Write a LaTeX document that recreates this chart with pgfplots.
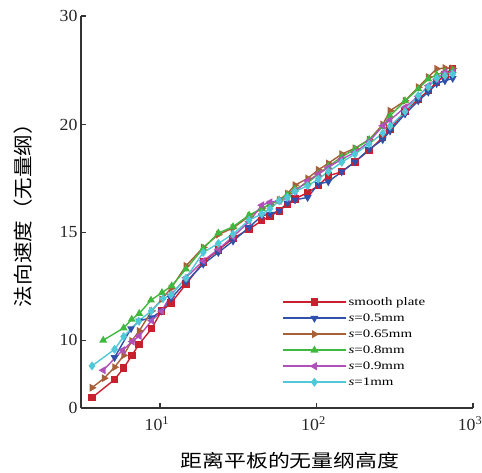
\documentclass[border=0pt]{standalone}
\usepackage{fontspec}
\usepackage{pgfplots}
\pgfplotsset{compat=1.18}
\setmainfont{Liberation Serif}
\newfontfamily\tickfont[FakeStretch=1.05]{Liberation Serif}
\newfontfamily\legfont[FakeStretch=1.3]{Liberation Serif}
\newfontfamily\cjky[FakeStretch=1.11]{Noto Sans CJK SC}
\newfontfamily\cjkx[FakeStretch=1.22]{Noto Sans CJK SC}

\definecolor{cRed}{RGB}{200,32,45}
\definecolor{cBlue}{RGB}{48,80,170}
\definecolor{cBrown}{RGB}{168,96,56}
\definecolor{cGreen}{RGB}{64,184,64}
\definecolor{cPurple}{RGB}{176,80,184}
\definecolor{cCyan}{RGB}{80,200,216}

\tikzset{ser/.style={line width=1.4bp}}

\begin{document}
\begin{tikzpicture}
\path[use as bounding box] (0bp,0bp) rectangle (482bp,-473bp);
\begin{axis}[
    at={(81bp,-408bp)}, anchor=south west,
    scale only axis,
    width=392bp, height=392bp,
    xmode=log,
    xmin=3.13, xmax=1000,
    ymin=6.86, ymax=25.03,
    axis lines=left,
    axis line style={-, line width=1.2bp, black!80},
    xtick={10,100,1000},
    xticklabels={10\textsuperscript{1},10\textsuperscript{2},10\textsuperscript{3}},
    xminorticks=false,
    ytick={6.86,10,15,20,25.03},
    yticklabels={0,10,15,20,30},
    tick align=inside,
    major tick length=5bp,
    tick style={line width=1.2bp, black!80},
    ticklabel style={font=\tickfont\fontsize{17}{17}\selectfont, black!85},
    xticklabel style={yshift=-5bp, xshift=-3bp},
    xlabel={\cjkx\fontsize{18}{18}\selectfont 距离平板的无量纲高度},
    xlabel style={at={(axis description cs:0.533,-0.133)}, anchor=center},
    ylabel={\cjky\fontsize{19.5}{19.5}\selectfont 法向速度（无量纲）},
    ylabel style={at={(axis description cs:-0.148,0.505)}, anchor=center, rotate=0},
    legend style={draw=none, fill=none, at={(axis description cs:0.505,0.29592)}, anchor=north west,
        font=\legfont\fontsize{11.5}{11.5}\selectfont,
        nodes={inner sep=2bp, text height=9bp, text depth=3bp}},
    legend cell align=left,
    legend image code/.code={
        \draw[#1, line width=1.5bp, mark repeat=2, mark phase=2] plot coordinates {(0bp,0bp) (31.5bp,0bp) (63bp,0bp)};
    },
]

\addplot[ser, cRed, mark=square*, mark size=3bp] coordinates {
(3.68,7.34)(5.13,8.18)(5.86,8.71)(6.62,9.30)(7.34,9.81)(8.85,10.54)(10.2,11.35)(11.76,11.72)
(14.66,12.60)(18.9,13.62)(23.6,14.19)(29.3,14.72)(37.1,15.15)(44.7,15.54)(50.5,15.75)(57.8,16.0)
(65.1,16.3)(72.9,16.55)(87.8,16.85)(102.7,17.16)(119,17.62)(145,17.81)(176,18.27)(217,18.8)
(265,19.41)(295,19.79)(368,20.6)(447,21.18)(518,21.57)(586,21.96)(662,22.3)(742,22.58)
};
\addlegendentry{smooth plate}

\addplot[ser, cBlue, mark=triangle*, mark size=3.2bp, mark options={rotate=180}] coordinates {
(5.13,9.20)(6.53,10.54)(7.37,10.90)(8.85,11.05)(10.25,11.36)(11.76,11.94)(14.66,12.7)(18.9,13.53)
(23.6,14.07)(29.3,14.6)(37.1,15.23)(44.7,15.77)(50.5,15.85)(57.8,16.0)(65.1,16.36)(72.9,16.51)
(87.8,16.62)(102.7,17.24)(119,17.35)(145,17.81)(176,18.27)(217,18.85)(265,19.3)(295,19.7)
(368,20.49)(447,21.1)(518,21.5)(586,21.9)(662,22.03)(742,22.14)
};
\addlegendentry{\textit{s}=0.5mm}

\addplot[ser, cBrown, mark=triangle*, mark size=3.2bp, mark options={rotate=-90}] coordinates {
(3.68,7.80)(4.40,8.24)(5.13,8.75)(5.86,9.3)(6.60,9.97)(7.37,10.43)(8.85,11.36)(10.25,11.9)
(11.76,12.4)(14.66,13.45)(18.9,14.3)(23.6,14.9)(29.3,15.2)(37.1,15.75)(44.7,16.1)(50.5,16.3)
(57.8,16.5)(65.1,16.8)(72.9,17.19)(87.8,17.5)(102.7,17.90)(119,18.2)(145,18.63)(176,18.9)
(217,19.3)(265,20.0)(295,20.64)(368,21.1)(447,21.73)(518,22.2)(586,22.58)(662,22.62)(742,22.6)
};
\addlegendentry{\textit{s}=0.65mm}

\addplot[ser, cGreen, mark=triangle*, mark size=3.2bp] coordinates {
(4.34,10.0)(5.86,10.57)(6.60,10.97)(7.37,11.24)(8.76,11.86)(10.30,12.21)(11.88,12.52)(14.66,13.3)
(18.9,14.26)(23.6,14.97)(29.3,15.26)(37.1,15.80)(44.7,16.1)(50.5,16.3)(57.8,16.5)(65.1,16.75)
(72.9,17.0)(87.8,17.3)(102.7,17.7)(119,18.05)(145,18.5)(176,18.86)(217,19.3)(265,19.9)
(295,20.4)(368,21.10)(447,21.65)(518,22.11)(586,22.3)(662,22.45)(742,22.50)
};
\addlegendentry{\textit{s}=0.8mm}

\addplot[ser, cPurple, mark=triangle*, mark size=3.2bp, mark options={rotate=90}] coordinates {
(4.34,8.61)(5.78,9.54)(6.65,9.94)(7.37,10.20)(8.85,10.91)(10.25,11.35)(11.76,12.1)(14.66,12.9)
(18.9,13.68)(23.6,14.22)(29.3,14.8)(37.1,15.5)(44.7,16.26)(50.5,16.4)(57.8,16.46)(65.1,16.6)
(72.9,16.9)(87.8,17.39)(102.7,17.7)(119,18.01)(145,18.40)(176,18.7)(217,19.2)(265,19.94)
(295,20.2)(368,20.80)(447,21.3)(518,21.80)(586,22.1)(662,22.42)(742,22.42)
};
\addlegendentry{\textit{s}=0.9mm}

\addplot[ser, cCyan, mark=diamond*, mark size=3.4bp] coordinates {
(3.68,8.81)(5.13,9.58)(5.86,10.17)(7.31,10.89)(8.80,11.36)(10.45,11.93)(11.76,12.1)(14.66,12.88)
(18.9,14.07)(23.6,14.49)(29.3,14.92)(37.1,15.57)(44.7,15.85)(50.5,16.1)(57.8,16.46)(65.1,16.62)
(72.9,16.9)(87.8,17.16)(102.7,17.47)(119,17.81)(145,18.25)(176,18.63)(217,19.1)(265,19.6)
(295,19.92)(368,20.6)(447,21.34)(518,21.73)(586,22.14)(662,22.26)(742,22.34)
};
\addlegendentry{\textit{s}=1mm}

\end{axis}
\end{tikzpicture}
\end{document}
